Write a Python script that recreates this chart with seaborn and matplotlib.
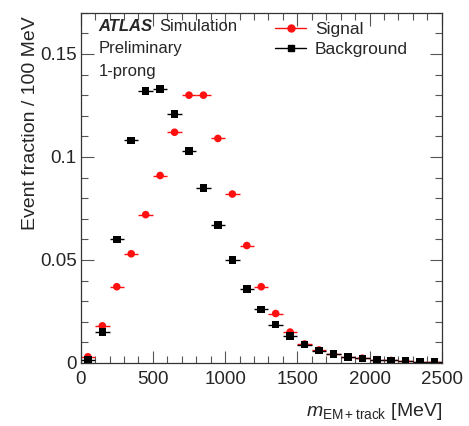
import numpy as np
import pandas as pd
import matplotlib
matplotlib.use("Agg")
import matplotlib.pyplot as plt
import seaborn as sns
from matplotlib.lines import Line2D
from matplotlib.ticker import MultipleLocator

bin_centers = [50, 150, 250, 350, 450, 550, 650, 750, 850, 950, 1050, 1150, 1250,
               1350, 1450, 1550, 1650, 1750, 1850, 1950, 2050, 2150, 2250, 2350, 2450]
signal = [0.003, 0.018, 0.037, 0.053, 0.072, 0.091, 0.112, 0.130, 0.130, 0.109,
          0.082, 0.057, 0.037, 0.024, 0.015, 0.0092, 0.0063, 0.0044, 0.0030, 0.0023,
          0.0016, 0.0012, 0.0009, 0.0006, 0.0004]
background = [0.0015, 0.015, 0.060, 0.108, 0.132, 0.133, 0.121, 0.103, 0.085, 0.067,
              0.050, 0.036, 0.026, 0.0186, 0.013, 0.0089, 0.0060, 0.0042, 0.0030, 0.0022,
              0.0014, 0.0012, 0.0009, 0.0005, 0.0004]
bin_half_width = 50
series_names = ["Signal", "Background"]

df = pd.DataFrame({
    "m": bin_centers * 2,
    "frac": signal + background,
    "sample": [series_names[0]] * len(signal) + [series_names[1]] * len(background),
})

sns.set_theme(style="ticks")
plt.rcParams['font.family'] = ['Liberation Sans', 'DejaVu Sans']
plt.rcParams['mathtext.fontset'] = 'custom'
plt.rcParams['mathtext.it'] = 'Liberation Sans:italic'
plt.rcParams['mathtext.rm'] = 'Liberation Sans'

fig = plt.figure(figsize=(4.69, 4.26), dpi=100)
ax = fig.add_axes([0.172, 0.148, 0.770, 0.822])

colors = {"Signal": "#ff1010", "Background": "#000000"}
markers = {"Signal": "o", "Background": "s"}

for name in series_names:
    sub = df[df["sample"] == name]
    ax.errorbar(sub["m"], sub["frac"], xerr=bin_half_width, fmt="none",
                ecolor=colors[name], elinewidth=1.0, zorder=2)

sns.scatterplot(data=df, x="m", y="frac", hue="sample", style="sample",
                palette=colors, markers=markers, s=30, linewidth=0,
                legend=False, ax=ax, zorder=3)

ax.set_xlim(0, 2500)
ax.set_ylim(0, 0.17)
ax.xaxis.set_minor_locator(MultipleLocator(100))
ax.yaxis.set_minor_locator(MultipleLocator(0.01))
ax.set_yticks([0, 0.05, 0.1, 0.15])
ax.set_yticklabels(["0", "0.05", "0.1", "0.15"])
ax.set_xticks([0, 500, 1000, 1500, 2000, 2500])
ax.set_xticklabels(["0", "500", "1000", "1500", "2000", "2500"])
ax.tick_params(which="both", direction="in", top=True, right=True, labelsize=13.5,
               color="#555555", width=0.8)
ax.tick_params(axis="x", which="major", pad=6)
ax.tick_params(axis="y", which="major", pad=3)
ax.tick_params(which="major", length=9)
ax.tick_params(which="minor", length=5)
for sp in ax.spines.values():
    sp.set_linewidth(0.9)
    sp.set_color("#333333")
    sp.set_visible(True)

ax.set_xlabel(r"$m_{\mathrm{EM+track}}$ [MeV]", fontsize=14, loc="right", labelpad=9)
ax.set_ylabel("Event fraction / 100 MeV", fontsize=14, loc="top", labelpad=2)
ax.yaxis.set_label_coords(-0.115, 0.99)

ax.text(0.05, 0.96, "ATLAS", transform=ax.transAxes, fontsize=12,
        fontweight="bold", fontstyle="italic", va="center")
ax.text(0.217, 0.96, "Simulation", transform=ax.transAxes, fontsize=12, va="center")
ax.text(0.05, 0.897, "Preliminary", transform=ax.transAxes, fontsize=12, va="center")
ax.text(0.05, 0.831, "1-prong", transform=ax.transAxes, fontsize=12, va="center")

handles = [Line2D([0], [0], color=colors[n], marker=markers[n], markersize=5,
                  linewidth=1.0) for n in series_names]
ax.legend(handles, series_names, loc="upper left", bbox_to_anchor=(0.505, 1.01),
          frameon=False, fontsize=12.5, handlelength=1.8, handletextpad=0.5,
          labelspacing=0.3, borderpad=0.2)

fig.savefig("out.png", dpi=100, facecolor="white")
